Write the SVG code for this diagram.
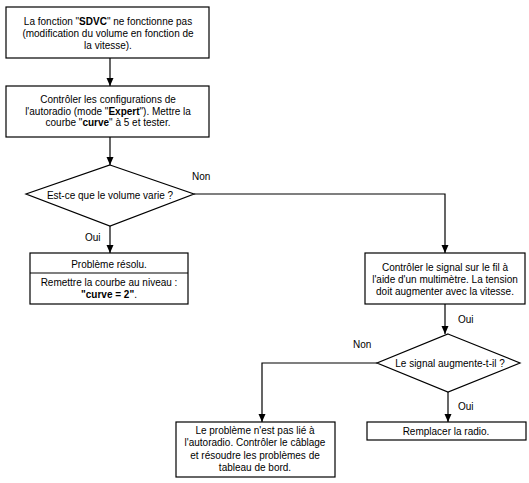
<svg xmlns="http://www.w3.org/2000/svg" width="529" height="483" viewBox="0 0 529 483">
<style>
.box{fill:#fff;stroke:#000;stroke-width:1.2}
.ln{fill:none;stroke:#000;stroke-width:1.2}
text{font-family:"Liberation Sans",Arial,sans-serif;font-size:10px;fill:#000;text-anchor:middle}
.lbl{text-anchor:start}
.b{font-weight:bold}
</style>
<defs>
<marker id="ah" viewBox="0 0 8 8" refX="8" refY="4" markerWidth="8" markerHeight="8" markerUnits="userSpaceOnUse" orient="auto">
<path d="M0,0.5 L8,4 L0,7.5 z" fill="#000"/>
</marker>
</defs>
<rect width="529" height="483" fill="#fff"/>
<g id="connectors">
<path class="ln" d="M110,58 V86" marker-end="url(#ah)"/>
<path class="ln" d="M110,137 V165" marker-end="url(#ah)"/>
<path class="ln" d="M110,226 V253" marker-end="url(#ah)"/>
<path class="ln" d="M194,194 H445 V253" marker-end="url(#ah)"/>
<path class="ln" d="M445,304 V334" marker-end="url(#ah)"/>
<path class="ln" d="M377,363 H262 V422" marker-end="url(#ah)"/>
<path class="ln" d="M448,392 V422" marker-end="url(#ah)"/>
<text class="lbl" x="192" y="180">Non</text>
<text class="lbl" x="85" y="241">Oui</text>
<text class="lbl" x="458" y="323">Oui</text>
<text class="lbl" x="353" y="348">Non</text>
<text class="lbl" x="458" y="410">Oui</text>
</g>
<g id="n1">
<rect class="box" x="6" y="7" width="203" height="51"/>
<text x="108" y="25">La fonction "<tspan class="b">SDVC</tspan>" ne fonctionne pas</text>
<text x="108" y="37">(modification du volume en fonction de</text>
<text x="108" y="48.5">la vitesse).</text>
</g>
<g id="n2">
<rect class="box" x="6" y="86" width="203" height="51"/>
<text x="108" y="103">Contrôler les configurations de</text>
<text x="108" y="114.5">l'autoradio (mode "<tspan class="b">Expert</tspan>"). Mettre la</text>
<text x="108" y="126">courbe "<tspan class="b">curve</tspan>" à 5 et tester.</text>
</g>
<g id="d1">
<polygon class="box" points="110,165 194,194 110,226 26,194"/>
<text x="110" y="198.5">Est-ce que le volume varie ?</text>
</g>
<g id="n3">
<rect class="box" x="30" y="253" width="158" height="51"/>
<line class="ln" x1="30" y1="273" x2="188" y2="273"/>
<text x="109" y="267.5">Problème résolu.</text>
<text x="109" y="285.5">Remettre la courbe au niveau :</text>
<text x="109" y="298"><tspan class="b">"curve = 2"</tspan>.</text>
</g>
<g id="n4">
<rect class="box" x="365" y="253" width="160" height="51"/>
<text x="445" y="271">Contrôler le signal sur le fil à</text>
<text x="445" y="283">l'aide d'un multimètre. La tension</text>
<text x="445" y="295">doit augmenter avec la vitesse.</text>
</g>
<g id="d2">
<polygon class="box" points="448,334 520,363 448,392 377,363"/>
<text x="450" y="366.5">Le signal augmente-t-il ?</text>
</g>
<g id="n5">
<rect class="box" x="176" y="422" width="159" height="55"/>
<text x="255" y="433.5">Le problème n'est pas lié à</text>
<text x="255" y="446">l'autoradio. Contrôler le câblage</text>
<text x="255" y="458.5">et résoudre les problèmes de</text>
<text x="255" y="470.5">tableau de bord.</text>
</g>
<g id="n6">
<rect class="box" x="367" y="422" width="159" height="18"/>
<text x="446" y="434.5">Remplacer la radio.</text>
</g>
</svg>
